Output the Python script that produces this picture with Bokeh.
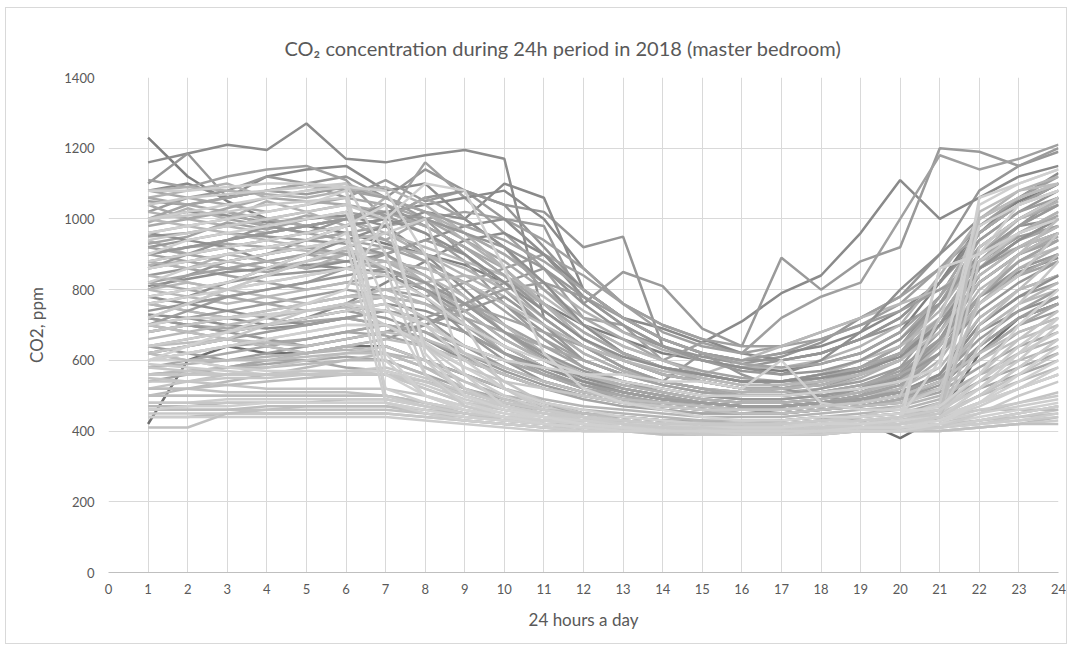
from bokeh.plotting import figure
from bokeh.models import ColumnDataSource, FixedTicker
from bokeh.embed import file_html
from bokeh.resources import INLINE

# Hourly CO2 readings (ppm) in the master bedroom, one list per day, hours 1..24
hours = list(range(1, 25))

peak_days = [
    [1230, 1120, 1050, 1000, 980, 960, 930, 900, 870, 820, 760, 700, 660, 620, 600, 580, 570, 590, 620, 680, 820, 980, 1050, 1100],
    [1160, 1185, 1210, 1195, 1270, 1170, 1160, 1180, 1195, 1170, 720, 640, 580, 540, 520, 510, 520, 540, 580, 640, 780, 960, 1060, 1130],
    [1100, 1185, 1060, 1080, 1100, 1120, 1060, 1140, 1080, 1040, 1020, 920, 950, 640, 610, 590, 610, 650, 720, 780, 900, 1080, 1150, 1190],
    [1080, 1100, 1060, 1120, 1140, 1150, 1080, 1100, 1000, 1100, 1060, 800, 720, 690, 650, 710, 790, 840, 960, 1110, 1000, 1060, 1120, 1150],
    [1020, 1060, 1080, 1120, 1100, 1060, 1110, 1050, 1080, 1000, 980, 760, 850, 810, 690, 640, 890, 800, 880, 920, 1200, 1190, 1150, 1200],
    [1110, 1090, 1120, 1140, 1150, 1110, 1000, 1160, 1060, 960, 860, 720, 700, 600, 650, 620, 720, 780, 820, 1000, 1180, 1140, 1170, 1210],
    [420, 600, 640, 620, 620, 640, 640, 600, 560, 520, 480, 450, 440, 430, 420, 420, 430, 440, 430, 380, 440, 620, 720, 760],
]

active_days = [
    [900, 920, 940, 960, 980, 1000, 1020, 1040, 1060, 1080, 1000, 860, 760, 700, 660, 620, 600, 620, 660, 720, 820, 960, 1040, 1100],
    [800, 840, 880, 900, 940, 980, 1000, 1060, 1080, 1040, 920, 800, 720, 660, 620, 600, 600, 620, 660, 720, 820, 940, 1020, 1080],
    [760, 740, 720, 740, 760, 780, 800, 780, 820, 860, 900, 840, 760, 700, 660, 640, 640, 660, 700, 760, 860, 980, 1060, 1120],
    [680, 700, 720, 700, 720, 760, 820, 880, 940, 960, 900, 800, 720, 660, 620, 600, 620, 640, 680, 740, 820, 960, 1040, 1100],
    [620, 640, 660, 640, 620, 640, 660, 700, 760, 820, 860, 760, 680, 640, 600, 580, 600, 620, 660, 700, 760, 880, 980, 1060],
    [860, 880, 900, 920, 940, 960, 980, 1000, 1020, 1000, 940, 860, 760, 680, 640, 620, 640, 680, 720, 780, 860, 960, 1040, 1100],
]

occupied_days = [
    [1000, 1020, 1010, 990, 1000, 1010, 980, 900, 800, 700, 620, 560, 520, 500, 480, 470, 470, 480, 500, 560, 700, 900, 980, 1000],
    [950, 960, 980, 1000, 1020, 1040, 1010, 960, 880, 760, 660, 580, 540, 510, 490, 480, 480, 490, 520, 580, 720, 880, 950, 980],
    [900, 920, 930, 920, 940, 960, 940, 880, 780, 680, 600, 540, 510, 490, 470, 460, 470, 480, 500, 540, 650, 820, 900, 950],
    [870, 880, 860, 880, 900, 910, 900, 820, 720, 620, 560, 520, 500, 480, 470, 460, 460, 470, 480, 520, 600, 760, 860, 900],
    [820, 840, 860, 850, 870, 880, 860, 800, 700, 620, 560, 520, 490, 480, 470, 460, 460, 470, 490, 520, 620, 780, 840, 880],
    [780, 800, 820, 840, 850, 860, 850, 780, 680, 600, 540, 510, 490, 470, 460, 450, 460, 470, 480, 500, 560, 720, 800, 840],
    [760, 740, 720, 730, 740, 750, 740, 700, 640, 580, 540, 510, 490, 470, 460, 450, 450, 460, 470, 490, 540, 680, 760, 800],
    [730, 720, 700, 690, 700, 720, 700, 660, 600, 560, 520, 500, 480, 470, 460, 450, 450, 460, 470, 480, 520, 640, 720, 760],
    [1050, 1040, 1060, 1080, 1070, 1090, 1060, 1000, 900, 800, 700, 620, 570, 540, 520, 500, 500, 520, 560, 620, 760, 940, 1020, 1060],
    [980, 1000, 1030, 1060, 1050, 1040, 1020, 980, 920, 860, 760, 660, 600, 560, 540, 520, 520, 530, 560, 620, 760, 920, 1000, 1040],
    [940, 900, 880, 860, 880, 900, 920, 900, 860, 800, 720, 640, 580, 540, 520, 510, 520, 540, 580, 640, 760, 900, 960, 1000],
    [880, 860, 840, 820, 800, 820, 840, 800, 760, 700, 640, 580, 540, 520, 500, 490, 490, 500, 520, 560, 660, 820, 900, 940],
    [840, 860, 880, 900, 920, 900, 880, 860, 820, 760, 680, 600, 560, 530, 510, 500, 500, 510, 530, 560, 640, 780, 860, 900],
    [800, 780, 760, 780, 800, 820, 800, 760, 700, 640, 580, 540, 510, 490, 480, 470, 470, 480, 500, 520, 580, 720, 800, 840],
    [720, 700, 680, 700, 720, 740, 760, 740, 700, 640, 580, 540, 510, 490, 480, 470, 470, 480, 490, 510, 560, 680, 740, 780],
    [700, 720, 740, 760, 780, 800, 780, 720, 640, 580, 540, 510, 490, 480, 470, 460, 460, 470, 480, 500, 540, 640, 720, 760],
    [1080, 1060, 1040, 1020, 1040, 1060, 1040, 1000, 940, 880, 800, 720, 660, 600, 560, 540, 540, 560, 600, 660, 780, 960, 1040, 1080],
    [1020, 1000, 980, 960, 980, 1000, 960, 900, 840, 780, 700, 620, 570, 540, 520, 510, 510, 520, 550, 600, 720, 880, 960, 1020],
    [960, 980, 1000, 980, 960, 940, 920, 880, 820, 740, 660, 600, 560, 530, 510, 500, 500, 510, 530, 570, 680, 860, 940, 980],
    [920, 940, 960, 950, 940, 930, 900, 840, 760, 680, 610, 560, 530, 510, 490, 480, 480, 490, 510, 550, 660, 840, 920, 960],
    [860, 880, 900, 920, 910, 900, 880, 840, 780, 700, 620, 560, 520, 500, 480, 470, 470, 480, 500, 540, 640, 800, 880, 920],
    [810, 830, 850, 860, 870, 860, 840, 800, 740, 660, 600, 550, 520, 500, 480, 470, 470, 480, 500, 530, 620, 780, 850, 890],
    [640, 660, 680, 700, 720, 740, 720, 680, 620, 570, 530, 500, 480, 470, 460, 450, 450, 460, 470, 490, 530, 620, 700, 740],
    [680, 700, 690, 700, 710, 720, 700, 660, 610, 560, 520, 500, 480, 460, 450, 450, 450, 460, 470, 490, 520, 600, 680, 720],
    [1060, 1080, 1100, 1060, 1080, 1100, 1060, 1020, 960, 900, 820, 740, 680, 630, 600, 580, 580, 600, 640, 700, 840, 1000, 1080, 1120],
    [900, 880, 860, 880, 900, 880, 860, 820, 760, 720, 680, 640, 600, 560, 540, 520, 520, 540, 570, 620, 720, 860, 920, 960],
    [720, 700, 680, 660, 640, 660, 680, 700, 740, 780, 700, 600, 560, 540, 620, 560, 520, 500, 480, 500, 560, 700, 780, 820],
    [800, 820, 800, 780, 760, 780, 800, 820, 840, 820, 760, 680, 620, 580, 560, 600, 640, 680, 720, 760, 800, 880, 920, 960],
    [880, 900, 920, 880, 860, 880, 900, 940, 980, 1000, 900, 780, 700, 640, 600, 580, 560, 600, 680, 800, 900, 1000, 1060, 1100],
    [640, 620, 600, 620, 640, 660, 680, 720, 760, 800, 820, 780, 720, 660, 620, 600, 620, 660, 700, 740, 800, 860, 920, 980],
    [1040, 1000, 1020, 980, 1010, 1000, 940, 1000, 960, 900, 820, 700, 620, 580, 540, 520, 520, 540, 560, 600, 700, 860, 960, 1010],
    [990, 1030, 1000, 1050, 1020, 980, 1060, 1020, 940, 860, 760, 680, 620, 580, 560, 540, 540, 560, 580, 640, 740, 900, 1000, 1050],
    [930, 950, 990, 970, 1000, 1020, 1000, 1060, 1000, 920, 800, 700, 640, 600, 570, 550, 540, 550, 580, 640, 760, 920, 1000, 1060],
    [860, 900, 940, 980, 960, 1000, 1040, 980, 920, 840, 740, 660, 600, 560, 540, 520, 520, 530, 560, 600, 700, 860, 940, 1000],
    [1000, 980, 960, 940, 920, 940, 960, 920, 880, 840, 780, 700, 640, 600, 560, 540, 540, 560, 600, 640, 720, 840, 920, 980],
    [760, 780, 820, 860, 900, 940, 980, 1020, 1000, 920, 820, 700, 620, 580, 560, 540, 540, 560, 580, 620, 700, 820, 900, 960],
    [700, 740, 780, 800, 820, 860, 900, 940, 900, 820, 720, 640, 580, 540, 520, 500, 500, 520, 540, 580, 660, 780, 880, 940],
    [820, 800, 780, 760, 740, 760, 780, 760, 720, 680, 640, 600, 560, 540, 520, 500, 500, 510, 530, 560, 620, 760, 840, 900],
    [880, 860, 900, 880, 860, 900, 880, 820, 740, 660, 600, 560, 530, 510, 490, 480, 480, 490, 510, 540, 620, 760, 860, 920],
    [920, 900, 880, 900, 920, 900, 860, 800, 720, 640, 580, 540, 520, 500, 480, 470, 470, 480, 500, 530, 620, 780, 880, 940],
    [740, 760, 780, 800, 820, 840, 860, 820, 760, 680, 620, 570, 540, 520, 500, 490, 490, 500, 520, 550, 620, 740, 820, 880],
    [660, 680, 700, 720, 740, 760, 780, 760, 700, 640, 580, 540, 510, 490, 480, 470, 470, 480, 490, 510, 560, 680, 760, 820],
    [780, 760, 740, 720, 700, 720, 740, 720, 680, 620, 580, 540, 510, 490, 480, 470, 470, 480, 490, 510, 560, 700, 780, 840],
    [620, 640, 660, 680, 700, 720, 740, 720, 680, 620, 570, 530, 500, 480, 470, 460, 460, 470, 480, 500, 540, 640, 720, 780],
    [1060, 1040, 1020, 1000, 980, 1000, 1020, 980, 920, 840, 760, 680, 620, 580, 550, 530, 530, 550, 580, 620, 720, 880, 980, 1040],
    [1080, 1090, 1080, 1070, 1060, 1080, 1090, 1040, 960, 860, 760, 660, 600, 560, 540, 520, 520, 530, 560, 600, 700, 860, 960, 1020],
    [1000, 1040, 1060, 1080, 1100, 1080, 1060, 1020, 980, 940, 880, 800, 720, 660, 620, 590, 580, 590, 620, 680, 780, 920, 1000, 1060],
    [900, 920, 940, 960, 980, 1000, 1020, 1000, 960, 920, 860, 780, 700, 640, 600, 570, 560, 570, 600, 660, 760, 900, 980, 1040],
    [840, 820, 800, 820, 840, 860, 880, 860, 820, 760, 700, 640, 600, 570, 550, 530, 530, 540, 560, 600, 680, 820, 900, 960],
    [960, 940, 920, 940, 960, 980, 1000, 960, 900, 820, 740, 660, 610, 580, 560, 540, 540, 550, 570, 610, 700, 860, 940, 1000],
    [700, 680, 660, 640, 660, 680, 700, 680, 640, 600, 560, 530, 510, 490, 480, 470, 470, 480, 490, 510, 550, 660, 740, 800],
    [580, 600, 620, 640, 660, 680, 700, 680, 640, 600, 560, 520, 500, 480, 470, 460, 460, 470, 480, 500, 540, 620, 700, 760],
]

medium_days = [
    [600, 620, 640, 650, 660, 680, 670, 640, 600, 560, 520, 490, 470, 460, 450, 450, 450, 460, 470, 480, 510, 580, 640, 680],
    [580, 590, 600, 610, 620, 630, 620, 600, 560, 520, 490, 470, 460, 450, 440, 440, 440, 450, 460, 470, 500, 560, 600, 640],
    [640, 650, 660, 640, 620, 640, 660, 640, 600, 560, 520, 500, 480, 470, 460, 450, 450, 460, 470, 480, 520, 600, 660, 700],
    [560, 570, 580, 590, 600, 610, 600, 560, 520, 490, 470, 450, 440, 430, 430, 420, 420, 430, 440, 450, 480, 540, 580, 620],
    [620, 600, 580, 600, 620, 640, 620, 580, 540, 500, 480, 460, 450, 440, 430, 430, 430, 440, 450, 460, 490, 560, 620, 660],
    [700, 680, 660, 650, 640, 660, 680, 660, 620, 580, 540, 510, 490, 480, 470, 460, 460, 470, 480, 500, 540, 620, 680, 720],
    [540, 560, 580, 600, 600, 580, 570, 540, 510, 480, 460, 450, 440, 430, 420, 420, 420, 430, 440, 450, 470, 520, 560, 600],
]

quiet_days = [
    [560, 570, 580, 580, 590, 600, 600, 560, 500, 460, 440, 430, 420, 420, 410, 410, 410, 410, 420, 430, 450, 500, 540, 580],
    [520, 540, 560, 580, 600, 620, 640, 600, 540, 490, 460, 440, 430, 420, 410, 410, 410, 410, 420, 430, 450, 500, 560, 620],
    [600, 620, 640, 660, 680, 700, 700, 640, 560, 500, 460, 440, 430, 420, 410, 410, 410, 420, 420, 430, 460, 540, 620, 680],
    [500, 520, 540, 560, 580, 600, 620, 580, 520, 480, 450, 430, 420, 410, 400, 400, 400, 410, 410, 420, 440, 480, 520, 560],
    [680, 700, 720, 740, 760, 780, 780, 720, 620, 540, 480, 450, 430, 420, 410, 400, 400, 410, 420, 430, 460, 560, 660, 740],
    [640, 660, 680, 700, 720, 740, 760, 700, 600, 520, 470, 440, 420, 410, 400, 400, 400, 410, 410, 420, 450, 540, 640, 720],
    [470, 470, 480, 480, 480, 490, 490, 470, 450, 430, 420, 410, 400, 400, 390, 390, 390, 390, 400, 400, 410, 430, 450, 470],
    [550, 540, 530, 520, 520, 520, 520, 500, 470, 450, 430, 420, 410, 400, 400, 400, 400, 400, 400, 410, 420, 450, 480, 510],
    [590, 580, 570, 560, 560, 560, 560, 530, 490, 460, 440, 430, 420, 410, 410, 400, 400, 410, 410, 420, 440, 480, 520, 560],
    [440, 440, 450, 450, 450, 450, 450, 440, 430, 420, 410, 400, 400, 400, 390, 390, 390, 390, 400, 400, 400, 410, 420, 440],
]

empty_days = [
    [460, 460, 460, 460, 460, 460, 460, 450, 440, 430, 420, 420, 410, 410, 410, 410, 410, 410, 410, 410, 420, 430, 440, 450],
    [450, 450, 450, 450, 450, 450, 450, 440, 430, 420, 410, 410, 400, 400, 400, 400, 400, 400, 400, 410, 410, 420, 430, 440],
    [440, 440, 440, 440, 440, 440, 440, 430, 420, 410, 400, 400, 400, 390, 390, 390, 390, 390, 400, 400, 400, 410, 420, 430],
    [410, 410, 450, 460, 470, 470, 470, 450, 430, 420, 410, 400, 400, 390, 390, 390, 390, 400, 400, 400, 400, 410, 420, 420],
    [500, 500, 500, 500, 500, 500, 500, 480, 460, 440, 420, 410, 410, 400, 400, 400, 400, 400, 410, 410, 410, 420, 440, 460],
    [480, 480, 490, 490, 490, 490, 490, 470, 450, 430, 420, 410, 400, 400, 390, 390, 390, 400, 400, 400, 410, 420, 430, 450],
    [520, 520, 510, 510, 510, 510, 500, 480, 450, 430, 420, 410, 400, 400, 400, 400, 400, 400, 400, 410, 410, 430, 450, 470],
]

late_return_days = [
    [560, 560, 560, 560, 560, 560, 560, 540, 510, 480, 460, 450, 440, 430, 420, 420, 420, 430, 440, 450, 460, 1020, 1080, 1100],
    [480, 480, 480, 480, 480, 480, 480, 460, 440, 430, 420, 410, 410, 400, 400, 400, 400, 400, 410, 410, 420, 880, 960, 1000],
    [600, 600, 580, 570, 570, 570, 570, 540, 500, 470, 450, 440, 430, 420, 420, 420, 420, 420, 430, 440, 860, 900, 1040, 1080],
    [520, 520, 530, 540, 550, 560, 560, 520, 480, 460, 440, 430, 420, 410, 410, 410, 410, 410, 420, 430, 440, 700, 800, 900],
    [580, 570, 560, 560, 560, 570, 560, 520, 480, 460, 450, 440, 430, 420, 420, 420, 420, 430, 440, 470, 520, 760, 840, 960],
    [700, 720, 720, 730, 740, 760, 740, 700, 640, 600, 580, 560, 560, 540, 540, 520, 600, 480, 460, 460, 460, 1060, 1100, 1140],
    [460, 460, 460, 470, 470, 470, 470, 460, 450, 440, 430, 430, 430, 420, 420, 420, 420, 420, 420, 420, 440, 460, 460, 460],
    [620, 640, 660, 700, 740, 760, 700, 640, 580, 540, 520, 500, 480, 470, 460, 460, 460, 470, 480, 500, 720, 1000, 1060, 1100],
    [760, 780, 800, 820, 840, 860, 840, 780, 700, 640, 600, 560, 540, 520, 500, 500, 500, 510, 520, 540, 580, 1040, 1100, 1140],
    [500, 500, 500, 500, 500, 500, 500, 480, 460, 440, 430, 420, 410, 410, 400, 400, 400, 400, 410, 420, 440, 1000, 1060, 1100],
    [540, 540, 550, 550, 560, 560, 560, 540, 500, 470, 450, 430, 420, 410, 410, 410, 410, 410, 420, 440, 480, 920, 1000, 1060],
    [460, 470, 470, 480, 480, 480, 480, 460, 440, 430, 420, 410, 410, 400, 400, 400, 400, 400, 410, 420, 860, 900, 960, 1000],
    [620, 600, 600, 600, 610, 620, 620, 580, 520, 480, 460, 440, 430, 420, 420, 420, 420, 420, 430, 440, 460, 780, 900, 1000],
    [560, 560, 560, 560, 570, 570, 580, 550, 510, 480, 460, 440, 430, 420, 420, 410, 410, 420, 420, 430, 450, 640, 760, 880],
    [600, 620, 640, 660, 680, 700, 700, 650, 580, 520, 480, 460, 440, 430, 420, 420, 420, 420, 430, 440, 600, 980, 1040, 1080],
]

window_open_days = [
    [1000, 1010, 1020, 1040, 1050, 1060, 500, 470, 450, 440, 430, 420, 420, 410, 410, 410, 410, 410, 420, 420, 430, 460, 480, 500],
    [960, 980, 1000, 1020, 1040, 1080, 560, 500, 470, 450, 440, 430, 420, 420, 410, 410, 410, 420, 420, 430, 440, 480, 520, 560],
    [880, 900, 920, 940, 960, 980, 520, 480, 460, 440, 430, 420, 410, 410, 400, 400, 400, 410, 410, 420, 430, 450, 470, 490],
    [1040, 1060, 1070, 1080, 1090, 1100, 900, 600, 500, 470, 450, 440, 430, 420, 420, 420, 420, 430, 430, 440, 460, 520, 600, 700],
    [900, 940, 960, 980, 1000, 1020, 760, 560, 480, 450, 430, 420, 410, 410, 400, 400, 400, 410, 410, 410, 420, 440, 460, 480],
    [820, 860, 880, 900, 920, 940, 480, 450, 430, 420, 410, 400, 400, 400, 390, 390, 390, 400, 400, 400, 410, 430, 450, 470],
    [720, 760, 800, 840, 880, 920, 860, 560, 470, 440, 420, 410, 400, 400, 390, 390, 390, 400, 400, 400, 410, 450, 500, 540],
    [600, 640, 680, 720, 760, 800, 1000, 1100, 1080, 860, 620, 520, 480, 460, 440, 430, 430, 440, 440, 450, 470, 560, 700, 800],
    [1080, 1080, 1090, 1100, 1100, 1090, 600, 500, 460, 440, 430, 420, 410, 410, 400, 400, 400, 410, 410, 420, 430, 470, 520, 580],
    [940, 960, 980, 1000, 1020, 1040, 1000, 640, 520, 470, 450, 430, 420, 410, 410, 400, 400, 410, 410, 420, 440, 500, 580, 660],
    [780, 800, 820, 860, 900, 960, 620, 500, 460, 440, 420, 410, 400, 400, 400, 390, 390, 400, 400, 400, 420, 480, 560, 640],
    [1000, 1020, 1040, 1060, 1080, 1090, 1080, 900, 560, 470, 440, 430, 420, 410, 400, 400, 400, 410, 410, 420, 440, 520, 620, 720],
    [720, 760, 800, 840, 880, 920, 960, 1000, 700, 520, 460, 440, 420, 410, 400, 400, 400, 410, 410, 420, 440, 500, 580, 660],
    [860, 880, 900, 920, 940, 980, 1040, 620, 500, 460, 440, 420, 410, 400, 400, 400, 400, 400, 410, 410, 430, 480, 540, 600],
]

# Grey shades per group, darker days drawn first so the light ones sit on top
group_shades = [
    (peak_days, ["#7f7f7f", "#8c8c8c", "#969696", "#8a8a8a", "#9a9a9a", "#a0a0a0", "#6e6e6e"]),
    (active_days, ["#8a8a8a", "#959595", "#a0a0a0"]),
    (occupied_days, ["#8f8f8f", "#9d9d9d", "#a8a8a8", "#b2b2b2", "#a3a3a3", "#989898", "#b8b8b8"]),
    (medium_days, ["#a6a6a6", "#b5b5b5", "#bdbdbd"]),
    (quiet_days, ["#b9b9b9", "#c3c3c3", "#cbcbcb"]),
    (empty_days, ["#c0c0c0", "#c8c8c8", "#cccccc"]),
    (late_return_days, ["#bcbcbc", "#c6c6c6", "#cfcfcf"]),
    (window_open_days, ["#c9c9c9", "#d0d0d0", "#cdcdcd"]),
]

xs, ys, colors = [], [], []
for days, shades in group_shades:
    for i, day in enumerate(days):
        xs.append(hours)
        ys.append(day)
        colors.append(shades[i % len(shades)])

source = ColumnDataSource(data=dict(xs=xs, ys=ys, color=colors))

FONT = "Lato"
TEXT = "#595959"

p = figure(
    width=1062, height=637,
    x_range=(0, 24), y_range=(0, 1400),
    output_backend="svg", toolbar_location=None,
    min_border_left=102, min_border_right=10,
    min_border_top=69, min_border_bottom=73,
    title="CO\u2082 concentration during 24h period in 2018 (master bedroom)",
)
p.margin = (7, 0, 0, 5)
p.styles = {"border": "1px solid #d9d9d9"}
p.outline_line_color = None
p.background_fill_color = "white"
p.border_fill_color = "white"

p.title.align = "left"
p.title.offset = 176
p.title.standoff = 35
p.title.text_font = FONT
p.title.text_font_size = "20px"
p.title.text_font_style = "normal"
p.title.text_color = TEXT

p.multi_line(xs="xs", ys="ys", line_color="color", line_width=2.5, source=source)

x_ticks = list(range(0, 25))
y_ticks = list(range(0, 1401, 200))
p.xaxis.ticker = FixedTicker(ticks=x_ticks)
p.yaxis.ticker = FixedTicker(ticks=y_ticks)
p.xgrid.ticker = FixedTicker(ticks=x_ticks)
p.ygrid.ticker = FixedTicker(ticks=y_ticks)
p.grid.grid_line_color = "#d9d9d9"
p.grid.grid_line_width = 1

for ax in (p.xaxis[0], p.yaxis[0]):
    ax.major_tick_line_color = None
    ax.minor_tick_line_color = None
    ax.major_tick_out = 0
    ax.major_tick_in = 0
    ax.major_label_text_font = FONT
    ax.major_label_text_font_size = "13px"
    ax.major_label_text_color = TEXT
    ax.axis_label_text_font = FONT
    ax.axis_label_text_font_size = "17px"
    ax.axis_label_text_font_style = "normal"
    ax.axis_label_text_color = TEXT

p.yaxis.axis_line_color = None
p.xaxis.axis_line_color = "#bfbfbf"
p.xaxis.major_label_standoff = 11
p.yaxis.major_label_standoff = 14
p.xaxis.axis_label = "24 hours a day"
p.yaxis.axis_label = "CO2, ppm"
p.xaxis.axis_label_standoff = 12
p.yaxis.axis_label_standoff = 14

open("out.html", "w").write(file_html(p, INLINE))
